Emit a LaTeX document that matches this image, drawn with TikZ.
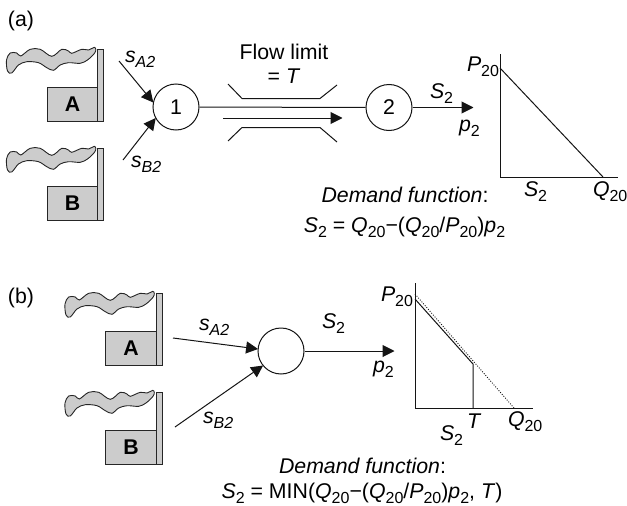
\documentclass[tikz,border=0pt]{standalone}
\usepackage{fontspec}
\setmainfont{Liberation Sans}
\usetikzlibrary{arrows.meta}
\newcommand\subt[1]{\raisebox{-5pt}{\fontsize{16}{16}\selectfont #1}}
\newcommand\vv[1]{\textit{#1}}
\tikzset{
  x=1pt,y=-1pt,
  ink/.style={draw=black!92,line width=1pt},
  arr/.style={ink,-{Triangle[length=12pt,width=12pt]},shorten >=-0.5pt},
  lbl/.style={inner sep=0,outer sep=0,anchor=base west,font=\fontsize{21.3}{21.3}\selectfont},
  lblc/.style={lbl,anchor=base},
  bus/.style={ink,circle,fill=white,minimum size=46pt,inner sep=0,font=\fontsize{21.3}{21.3}\selectfont},
  plant/.style={draw=black!85,line width=0.9pt,fill=black!20},
  factory/.pic={
    \path[plant] plot[smooth cycle,tension=.55] coordinates {
      (-1.7,0.5)(-3,4.3)(-10,11)(-17.3,14.3)(-29,13.7)(-37.3,16)(-44,21.3)(-50.7,18.7)(-59,13.7)(-70.7,12.7)(-79,16)(-85.7,24)(-90,22)(-91,11)(-87.3,4)(-80.7,4)(-76.7,7)(-67.3,0.3)(-57.3,0.3)(-45.7,7.3)(-35.7,0.3)(-29,2)(-25.7,4.3)(-15.7,0.3)(-9,1)(-3.3,-1.7)};
    \path[plant] (-50.5,38) rectangle (0,72);
    \path[plant] (0,0) rectangle (6,72);
    \node[inner sep=0,font=\fontsize{21.3}{21.3}\selectfont\bfseries] (-name) at (-25,55) {#1};
  },
}
\begin{document}
\begin{tikzpicture}
\useasboundingbox (0,0) rectangle (627,506);
% ---------- panel (a)
\node[lbl] (taga) at (8,27) {(a)};
\pic (fa) at (97.5,49) {factory=A};
\pic (fb) at (97.5,148) {factory=B};
\node[bus] (n1) at (176,107) {1};
\node[bus] (n2) at (389,107.5) {2};
\coordinate (sa) at (119,61);
\coordinate (sb) at (123,160);
\draw[arr] (sa) -- (n1.168);
\draw[arr] (sb) -- (n1.209);
\node[lbl] (lsa) at (125,62) {\vv{s}\subt{\vv{A2}}};
\node[lbl] (lsb) at (131,167) {\vv{s}\subt{\vv{B2}}};
\draw[ink] (n1) -- (n2);
\coordinate (fl) at (223,118);
\coordinate (fr) at (342,118);
\draw[arr] (fl) -- (fr);
\coordinate (c1) at (228,84);\coordinate (c2) at (242,98.5);\coordinate (c3) at (320,98.5);\coordinate (c4) at (337,85);
\draw[ink] (c1) -- (c2) -- (c3) -- (c4);
\coordinate (d1) at (228,141);\coordinate (d2) at (242,127.5);\coordinate (d3) at (320,127.5);\coordinate (d4) at (337,142);
\draw[ink] (d1) -- (d2) -- (d3) -- (d4);
\node[lblc] (flow) at (284,59) {Flow limit};
\node[lblc] (eqt) at (284,83) {= \vv{T}};
\coordinate (oa) at (473,107.5);
\draw[arr] (n2) -- (oa);
\node[lbl] (ls2) at (430,98) {\vv{S}\subt{2}};
\node[lbl] (lp2) at (459,131) {\vv{p}\subt{2}};
\coordinate (ay) at (500,54);\coordinate (ao) at (500,177);\coordinate (ax) at (618,177);
\draw[ink] (ay) -- (ao) -- (ax);
\coordinate (ap) at (500,68);\coordinate (aq) at (603,177);
\draw[ink] (ap) -- (aq);
\node[lbl] (lp20) at (467,71) {\vv{P}\subt{20}};
\node[lbl] (lxs) at (524,196) {\vv{S}\subt{2}};
\node[lbl] (lq20) at (593,196) {\vv{Q}\subt{20}};
\node[lblc] (dfa) at (405,202) {\vv{Demand function}:};
\node[lblc] (eqa) at (404.5,232) {\vv{S}\subt{2} = \vv{Q}\subt{20}−(\vv{Q}\subt{20}/\vv{P}\subt{20})\vv{p}\subt{2}};
% ---------- panel (b)
\node[lbl] (tagb) at (8,303) {(b)};
\pic (ga) at (156,293) {factory=A};
\pic (gb) at (156,392) {factory=B};
\node[bus] (n3) at (281,351) {};
\coordinate (ta) at (173,338);
\coordinate (tb) at (175,427);
\draw[arr] (ta) -- (n3.175);
\draw[arr] (tb) -- (n3.219);
\node[lbl] (msa) at (199,330) {\vv{s}\subt{\vv{A2}}};
\node[lbl] (msb) at (203,423) {\vv{s}\subt{\vv{B2}}};
\coordinate (ob) at (394,351);
\draw[arr] (n3) -- (ob);
\node[lbl] (ms2) at (322,328) {\vv{S}\subt{2}};
\node[lbl] (mp2) at (373,372) {\vv{p}\subt{2}};
\coordinate (by) at (415,283);\coordinate (bo) at (415,408);\coordinate (bx) at (533,408);
\draw[ink] (by) -- (bo) -- (bx);
\coordinate (bp) at (415,299);\coordinate (bk) at (473,364);\coordinate (bt) at (473,408);
\draw[ink] (bp) -- (bk) -- (bt);
\coordinate (bdp) at (415,294);\coordinate (bdq) at (514,408);
\draw[draw=black!92,line width=0.8pt,dash pattern=on 1pt off 1.5pt] (bdp) -- (bdq);
\node[lbl] (mp20) at (381,301) {\vv{P}\subt{20}};
\node[lbl] (mt) at (467,428) {\vv{T}};
\node[lbl] (mq20) at (508,426) {\vv{Q}\subt{20}};
\node[lbl] (mxs) at (440,440) {\vv{S}\subt{2}};
\node[lblc] (dfb) at (362.5,473) {\vv{Demand function}:};
\node[lblc] (eqb) at (362,498) {\vv{S}\subt{2} = MIN(\vv{Q}\subt{20}−(\vv{Q}\subt{20}/\vv{P}\subt{20})\vv{p}\subt{2}, \vv{T})};
\end{tikzpicture}
\end{document}
